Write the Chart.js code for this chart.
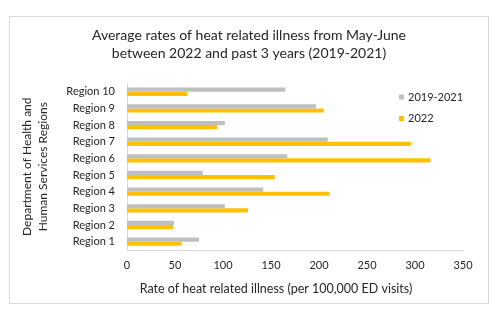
<!DOCTYPE html>
<html>
<head>
<meta charset="utf-8">
<script src="https://cdn.jsdelivr.net/npm/chart.js@4"></script>
<style>
html,body{margin:0;padding:0;background:#fff;}
#wrap{width:502px;height:319px;position:relative;}
</style>
</head>
<body>
<div id="wrap"><canvas id="c" width="502" height="319"></canvas></div>
<script>
const categories = ['Region 10','Region 9','Region 8','Region 7','Region 6','Region 5','Region 4','Region 3','Region 2','Region 1'];
const seriesNames = ['2019-2021','2022'];
const rate2019to2021 = [165, 197, 102, 209, 167, 79, 142, 102, 49, 75];
const rate2022 = [63, 205, 94, 296, 316, 154, 211, 126, 48, 57];
const xTickMin = 0, xTickMax = 350, xTickStep = 50;
const titleLines = ['Average rates of heat related illness from May-June','between 2022 and past 3 years (2019-2021)'];
const xTitle = 'Rate of heat related illness (per 100,000 ED visits)';
const yTitleLines = ['Department of Health and','Human Services Regions'];

const FONT = 'Lato, "Open Sans", sans-serif';
const TEXT = '#262626';

const frame = {
  id: 'frame',
  beforeDraw(chart){
    const ctx = chart.ctx;
    ctx.save();
    ctx.fillStyle = '#fff';
    ctx.fillRect(0,0,chart.width,chart.height);
    ctx.strokeStyle = '#d9d9d9';
    ctx.lineWidth = 1;
    ctx.strokeRect(9.5,16.5,479,287);
    ctx.restore();
  }
};
const legendIn = {
  id: 'legendIn',
  afterDraw(chart){
    const ctx = chart.ctx;
    ctx.save();
    ctx.font = '11px ' + FONT;
    ctx.textBaseline = 'middle';
    ctx.textAlign = 'left';
    const ys = [97, 118.5];
    chart.data.datasets.forEach((ds,i)=>{
      ctx.fillStyle = ds.backgroundColor;
      ctx.fillRect(399, ys[i]-2.5, 5, 5);
      ctx.fillStyle = TEXT;
      ctx.fillText(ds.label, 408, ys[i]);
    });
    // x-axis title, offset left of the plot centre as in the original
    ctx.font = '12.5px ' + FONT;
    ctx.textAlign = 'center';
    ctx.fillText(xTitle, 276, 289);
    ctx.restore();
  }
};

new Chart(document.getElementById('c'), {
  type: 'bar',
  data: {
    labels: categories,
    datasets: [
      {label: seriesNames[0], data: rate2019to2021, backgroundColor: '#bfbfbf', categoryPercentage: 0.5, barPercentage: 1},
      {label: seriesNames[1], data: rate2022, backgroundColor: '#ffc000', categoryPercentage: 0.5, barPercentage: 1}
    ]
  },
  options: {
    indexAxis: 'y',
    responsive: false,
    animation: false,
    devicePixelRatio: 1,
    layout: {padding: {left: 10, right: 14, top: 16, bottom: 16}},
    plugins: {
      legend: {display: false},
      tooltip: {enabled: false},
      title: {
        display: true,
        text: titleLines,
        color: TEXT,
        font: {family: FONT, size: 14, weight: 'normal', lineHeight: 1.3},
        padding: {top: 10, bottom: 21}
      }
    },
    scales: {
      x: {
        min: xTickMin, max: xTickMax,
        ticks: {stepSize: xTickStep, color: TEXT, font: {family: FONT, size: 11}, padding: 9, maxRotation: 0},
        grid: {display: false, drawTicks: false},
        border: {display: true, color: '#d9d9d9', width: 1},
        title: {display: false},
        afterFit(scale){ scale.height = 53; }
      },
      y: {
        ticks: {color: TEXT, font: {family: FONT, size: 11}, padding: 12},
        grid: {display: false, drawTicks: false},
        border: {display: true, color: '#d9d9d9', width: 1},
        title: {display: true, text: yTitleLines, color: TEXT, font: {family: FONT, size: 12, lineHeight: 1.35}, padding: {top: 9, bottom: 0}},
        afterFit(scale){ scale.width = 117; }
      },
      rightGap: {
        type: 'category',
        position: 'right',
        display: true,
        ticks: {display: false},
        grid: {display: false, drawTicks: false},
        border: {display: false},
        afterFit(scale){ scale.width = 25; }
      }
    }
  },
  plugins: [frame, legendIn]
});
</script>
</body>
</html>
